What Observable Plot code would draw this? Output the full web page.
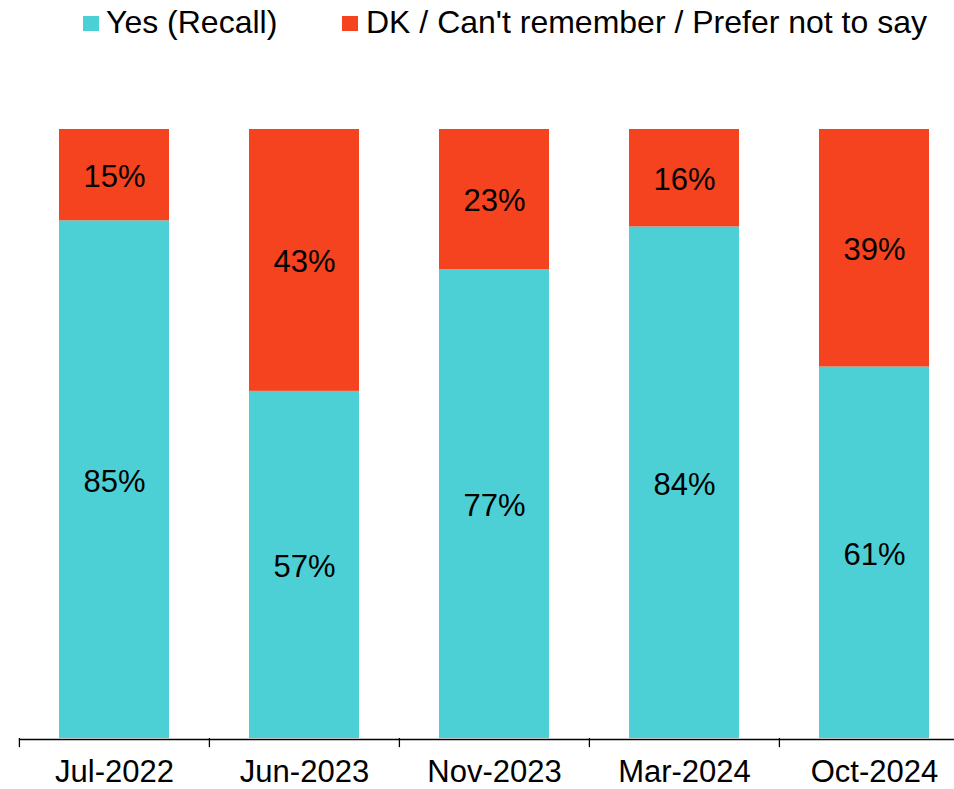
<!DOCTYPE html>
<html>
<head>
<meta charset="utf-8">
<script src="https://cdn.jsdelivr.net/npm/d3@7"></script>
<script src="https://cdn.jsdelivr.net/npm/@observablehq/plot@0.6"></script>
<style>
  html, body { margin: 0; padding: 0; background: #fff; }
  body { width: 954px; height: 789px; overflow: hidden; font-family: "Liberation Sans", Arial, sans-serif; }
  #legend { position: relative; height: 60px; width: 954px; }
  .sw { position: absolute; top: 16px; width: 16px; height: 15px; }
  .lt { position: absolute; top: 4px; font-size: 32px; line-height: 36px; color: #000; white-space: nowrap; }
  svg { display: block; }
</style>
</head>
<body>
<div id="legend"></div>
<div id="chart"></div>
<script>
const categories = ["Jul-2022", "Jun-2023", "Nov-2023", "Mar-2024", "Oct-2024"];
const seriesNames = ["Yes (Recall)", "DK / Can't remember / Prefer not to say"];
const yesValues = [85, 57, 77, 84, 61];
const dkValues = [15, 43, 23, 16, 39];
const colors = ["#4dd0d5", "#f5421f"];

const data = [];
categories.forEach((c, i) => {
  data.push({cat: c, series: seriesNames[0], value: yesValues[i]});
  data.push({cat: c, series: seriesNames[1], value: dkValues[i]});
});

// legend
const legend = document.getElementById("legend");
const legendPos = [{sw: 83, tx: 106}, {sw: 342, tx: 366}];
seriesNames.forEach((s, i) => {
  const sw = document.createElement("div");
  sw.className = "sw";
  sw.style.left = legendPos[i].sw + "px";
  sw.style.background = colors[i];
  legend.appendChild(sw);
  const t = document.createElement("div");
  t.className = "lt";
  t.style.left = legendPos[i].tx + "px";
  t.textContent = s;
  legend.appendChild(t);
});

const chart = Plot.plot({
  width: 954,
  height: 729,
  marginTop: 69,
  marginBottom: 51,
  marginLeft: 19,
  marginRight: 0,
  style: {fontFamily: "'Liberation Sans', Arial, sans-serif", background: "#fff"},
  x: {domain: categories, range: [19, 970], paddingInner: 0.42, paddingOuter: 0.21, axis: null},
  y: {domain: [0, 100], axis: null},
  color: {domain: seriesNames, range: colors},
  marks: [
    Plot.barY(data, Plot.stackY({x: "cat", y: "value", fill: "series", order: null})),
    Plot.text(data, Plot.stackY({x: "cat", y: "value", z: "series", order: null, text: d => d.value + "%", fontSize: 31, dy: 2, fill: "#000"})),
    Plot.ruleY([0], {stroke: "#000", strokeWidth: 1.3, dy: 1}),
    Plot.ruleX(categories, {x: d => d, dx: -95.1, y1: 0, y2: -1.5, stroke: "#000", strokeWidth: 1.3}),
    Plot.text(categories, {x: d => d, y: 0, dy: 34, text: d => d, fontSize: 31, fill: "#000"})
  ]
});
document.getElementById("chart").appendChild(chart);
</script>
</body>
</html>
